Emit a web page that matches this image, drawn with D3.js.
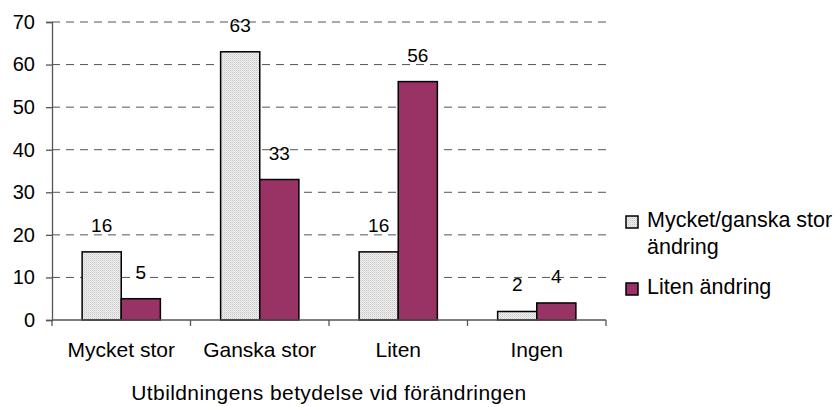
<!DOCTYPE html>
<html>
<head>
<meta charset="utf-8">
<script src="https://cdnjs.cloudflare.com/ajax/libs/d3/7.8.5/d3.min.js"></script>
<style>
  body { margin: 0; background: #fff; }
  svg { font-family: "Liberation Sans", Arial, sans-serif; }
</style>
</head>
<body>
<div id="chart"></div>
<script>
var categories = ["Mycket stor", "Ganska stor", "Liten", "Ingen"];
var seriesNames = ["Mycket/ganska stor ändring", "Liten ändring"];
var bigChange = [16, 63, 16, 2];
var smallChange = [5, 33, 56, 4];
var yTicks = [0, 10, 20, 30, 40, 50, 60, 70];
var xTitle = "Utbildningens betydelse vid förändringen";

var width = 838, height = 407;
var plotLeft = 52, plotRight = 606, plotTop = 22, plotBottom = 320;

var svg = d3.select("#chart").append("svg")
    .attr("width", width)
    .attr("height", height);

// dotted grey fill
var defs = svg.append("defs");
var pat = defs.append("pattern")
    .attr("id", "dots")
    .attr("width", 2)
    .attr("height", 2)
    .attr("patternUnits", "userSpaceOnUse");
pat.append("rect").attr("width", 2).attr("height", 2).attr("fill", "#f0f0f0");
pat.append("rect").attr("width", 1).attr("height", 1).attr("fill", "#c6c6c6");
pat.append("rect").attr("x", 1).attr("y", 1).attr("width", 1).attr("height", 1).attr("fill", "#dcdcdc");

var x = d3.scaleBand()
    .domain(categories)
    .range([plotLeft, plotRight]);

var inner = d3.scaleBand()
    .domain([0, 1])
    .range([0, x.bandwidth()])
    .paddingOuter(0.77)
    .paddingInner(0);

var y = d3.scaleLinear()
    .domain([0, 70])
    .range([plotBottom, plotTop]);

// gridlines
svg.append("g")
    .selectAll("line")
    .data(yTicks.filter(function (d) { return d > 0; }))
    .enter()
    .append("line")
    .attr("x1", plotLeft)
    .attr("x2", plotRight)
    .attr("y1", function (d) { return y(d); })
    .attr("y2", function (d) { return y(d); })
    .attr("stroke", "#555")
    .attr("stroke-width", 1)
    .attr("stroke-dasharray", "8,6");

var fills = ["url(#dots)", "#993366"];
var data = [];
categories.forEach(function (c, i) {
    data.push({ cat: c, s: 0, v: bigChange[i] });
    data.push({ cat: c, s: 1, v: smallChange[i] });
});

svg.append("g")
    .selectAll("rect")
    .data(data)
    .enter()
    .append("rect")
    .attr("x", function (d) { return x(d.cat) + inner(d.s); })
    .attr("y", function (d) { return y(d.v); })
    .attr("width", inner.bandwidth())
    .attr("height", function (d) { return y(0) - y(d.v); })
    .attr("fill", function (d) { return fills[d.s]; })
    .attr("stroke", "#000")
    .attr("stroke-width", 1.5);

// value labels
svg.append("g")
    .selectAll("text")
    .data(data)
    .enter()
    .append("text")
    .attr("x", function (d) { return x(d.cat) + inner(d.s) + inner.bandwidth() / 2; })
    .attr("y", function (d) { return y(d.v) - 20; })
    .attr("text-anchor", "middle")
    .attr("font-size", "19px")
    .attr("fill", "#000")
    .text(function (d) { return d.v; });

// y axis
var yAxis = svg.append("g")
    .attr("transform", "translate(" + plotLeft + ",0)")
    .call(d3.axisLeft(y).tickValues(yTicks).tickSize(6).tickPadding(11));
yAxis.select(".domain").attr("stroke", "#555").attr("stroke-width", 1.3);
yAxis.selectAll(".tick line").attr("stroke", "#555").attr("stroke-width", 1.3);
yAxis.selectAll(".tick text")
    .attr("font-size", "20px")
    .attr("font-family", "Liberation Sans, Arial, sans-serif")
    .attr("fill", "#000");

// x axis
var xAxis = svg.append("g")
    .attr("transform", "translate(0," + plotBottom + ")");
xAxis.append("line")
    .attr("x1", plotLeft).attr("x2", plotRight)
    .attr("y1", 0).attr("y2", 0)
    .attr("stroke", "#555").attr("stroke-width", 1.3);
xAxis.selectAll(".xt")
    .data(categories.concat([null]))
    .enter()
    .append("line")
    .attr("class", "xt")
    .attr("x1", function (d) { return d === null ? plotRight : x(d); })
    .attr("x2", function (d) { return d === null ? plotRight : x(d); })
    .attr("y1", 0).attr("y2", 6)
    .attr("stroke", "#555").attr("stroke-width", 1.3);
xAxis.selectAll("text")
    .data(categories)
    .enter()
    .append("text")
    .attr("x", function (d) { return x(d) + x.bandwidth() / 2; })
    .attr("y", 37)
    .attr("text-anchor", "middle")
    .attr("font-size", "21px")
    .attr("fill", "#000")
    .text(function (d) { return d; });

svg.append("text")
    .attr("x", (plotLeft + plotRight) / 2)
    .attr("y", 400)
    .attr("text-anchor", "middle")
    .attr("font-size", "21px")
    .attr("letter-spacing", "0.4px")
    .attr("fill", "#000")
    .text(xTitle);

// legend
var legend = svg.append("g");
var legendRows = [
    { lines: ["Mycket/ganska stor", "ändring"], y: 227 },
    { lines: ["Liten ändring"], y: 294 }
];
legendRows.forEach(function (r, i) {
    legend.append("rect")
        .attr("x", 626)
        .attr("y", r.y - 11)
        .attr("width", 12)
        .attr("height", 12)
        .attr("fill", fills[i])
        .attr("stroke", "#000")
        .attr("stroke-width", 1.5);
    var t = legend.append("text")
        .attr("x", 647)
        .attr("y", r.y)
        .attr("font-size", "21.5px")
        .attr("fill", "#000");
    r.lines.forEach(function (l, k) {
        t.append("tspan")
            .attr("x", 647)
            .attr("dy", k === 0 ? 0 : 27)
            .text(l);
    });
});
</script>
</body>
</html>
